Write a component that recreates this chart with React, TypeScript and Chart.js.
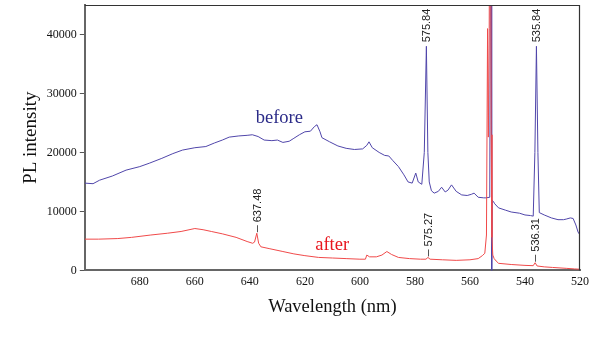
import React, { useEffect, useRef } from "react";
import { Chart, registerables } from "chart.js";

Chart.register(...registerables);

// ---- data ----
const beforeWl = [
  700, 697, 694.6, 690, 685, 680, 676.4, 672, 668, 664.5, 660, 656, 652.9, 650, 647.5, 644, 641, 639.1, 637, 634.8,
  632, 630, 628, 625.7, 624, 622, 620, 618, 616.5, 615.6, 614.5, 613.8, 611, 608, 605, 602, 599, 597.5, 596.7, 595.5,
  593, 591, 589.5, 588, 586, 584, 582.5, 581, 579.7, 578.8, 577.5, 576.6, 575.84, 575.3, 574.8, 574, 573, 571.5, 570.3, 569,
  568, 566.7, 565, 563, 561, 559.5, 558.5, 557, 555, 554.2, 552.8, 552.3, 552.1, 551.9, 551.5, 551, 549.6, 547, 545, 542,
  540, 538, 537, 536.4, 535.84, 535.3, 534.8, 533, 530.4, 528, 526, 525, 523.5, 522.5, 521.5, 520.7, 520,
];
const beforeVal = [
  14800, 14700, 15300, 16000, 17000, 17600, 18200, 19000, 19800, 20400, 20800, 21000, 21600, 22100, 22600, 22800, 22900, 23000, 22700, 22100,
  22000, 22100, 21700, 21900, 22400, 23000, 23500, 23600, 24400, 24700, 23500, 22500, 21800, 21100, 20700, 20500, 20600, 21200, 21800, 20800,
  20000, 19500, 19400, 18600, 17600, 16200, 15000, 14800, 16500, 15000, 14600, 20000, 38000, 20000, 15000, 13500, 13100, 13400, 14100, 13300,
  13600, 14500, 13400, 12800, 12700, 12900, 13100, 12400, 12300, 12300, 12400, 100000, 0, 11900, 11700, 11300, 10600, 10200, 9900, 9700,
  9400, 9300, 9200, 20000, 38000, 20000, 9800, 9400, 8900, 8600, 8600, 8700, 8900, 8800, 7700, 6500, 6000,
];

const afterWl = [
  700, 695, 688, 683, 676, 670, 665, 660, 657, 654, 650, 645, 641, 639, 638.3, 637.48, 636.8, 636, 633, 628,
  624, 620, 615, 610, 605, 600, 598, 597.5, 596.5, 594, 592, 590.2, 588.5, 586, 582, 578, 576, 575.27, 574.5, 570,
  565, 560, 557, 555.5, 554.6, 554.0, 553.6, 553.3, 553.0, 552.6, 552.3, 552.0, 551.7, 551.2, 550.5, 549.6, 545, 540, 537, 536.31,
  535.6, 533, 530, 525, 522, 520,
];
const afterVal = [
  5300, 5300, 5400, 5600, 6000, 6300, 6600, 7100, 6900, 6600, 6200, 5600, 4900, 4600, 4800, 6300, 4600, 4000, 3700, 3200,
  2800, 2500, 2200, 2100, 2000, 1900, 1900, 2600, 2300, 2300, 2600, 3200, 2700, 2200, 2000, 1900, 1900, 2200, 1900, 1800,
  1700, 1800, 2000, 2500, 2900, 6000, 41000, 22600, 41000, 100000, 23000, 5600, 2600, 2000, 1600, 1200, 1000, 850, 800, 1300,
  750, 600, 500, 350, 250, 200,
];

const xTicks = [520, 540, 560, 580, 600, 620, 640, 660, 680];
const yTicks = [0, 10000, 20000, 30000, 40000];

const peakWl = [575.84, 535.84, 637.48, 575.27, 536.31];
const peakVal = [38000, 38000, 6300, 2200, 1300];
const peakText = ["575.84", "535.84", "637.48", "575.27", "536.31"];
const peakSeries = ["before", "before", "after", "after", "after"];

const seriesNames = ["before", "after"];
const seriesLabelWl = [629.3, 610.1];
const seriesLabelVal = [25900, 4260];

const SERIF = "'Liberation Serif', 'Times New Roman', serif";
const SANS = "'Liberation Sans', Arial, sans-serif";
const COLORS: Record<string, { line: string; text: string }> = {
  before: { line: "#5046aa", text: "#2b2b88" },
  after: { line: "#f04a4a", text: "#e8161e" },
};

const annotatePlugin = {
  id: "annotate",
  afterDatasetsDraw(chart: any) {
    const { ctx, chartArea, scales } = chart;
    const x = scales.x;
    const y = scales.y;
    ctx.save();
    // frame top + right
    ctx.strokeStyle = "#333";
    ctx.lineWidth = 1.2;
    ctx.beginPath();
    ctx.moveTo(chartArea.left, chartArea.top + 0.5);
    ctx.lineTo(chartArea.right - 0.5, chartArea.top + 0.5);
    ctx.lineTo(chartArea.right - 0.5, chartArea.bottom);
    ctx.stroke();

    // peak labels
    peakWl.forEach((wl, i) => {
      const px = Math.round(x.getPixelForValue(wl)) + 0.5;
      const py = y.getPixelForValue(peakVal[i]);
      const leader = peakSeries[i] === "after" ? 7 : 0;
      if (leader > 0) {
        ctx.strokeStyle = "#555";
        ctx.lineWidth = 1;
        ctx.beginPath();
        ctx.moveTo(px, py - 1);
        ctx.lineTo(px, py - 1 - leader);
        ctx.stroke();
      }
      ctx.save();
      ctx.translate(px, py - leader - 4);
      ctx.rotate(-Math.PI / 2);
      ctx.font = `11px ${SANS}`;
      ctx.fillStyle = "#222";
      ctx.textAlign = "left";
      ctx.textBaseline = "middle";
      ctx.fillText(peakText[i], 0, 0);
      ctx.restore();
    });

    // series labels
    seriesNames.forEach((name, i) => {
      const px = x.getPixelForValue(seriesLabelWl[i]);
      const py = y.getPixelForValue(seriesLabelVal[i]);
      ctx.font = `18.5px ${SERIF}`;
      ctx.fillStyle = COLORS[name].text;
      ctx.textAlign = "center";
      ctx.textBaseline = "middle";
      ctx.fillText(name, px, py);
    });
    ctx.restore();
  },
};

export default function App() {
  const ref = useRef<HTMLCanvasElement | null>(null);
  useEffect(() => {
    if (!ref.current) return;
    const mk = (wl: number[], val: number[]) => wl.map((w, i) => ({ x: w, y: val[i] }));
    const chart = new Chart(ref.current, {
      type: "line",
      data: {
        datasets: [
          {
            label: "after",
            data: mk(afterWl, afterVal),
            borderColor: COLORS.after.line,
            borderWidth: 1,
            pointRadius: 0,
            tension: 0,
          },
          {
            label: "before",
            data: mk(beforeWl, beforeVal),
            borderColor: COLORS.before.line,
            borderWidth: 1,
            pointRadius: 0,
            tension: 0,
          },
        ],
      },
      options: {
        animation: false,
        responsive: false,
        layout: { padding: { left: 0, top: 5, right: 20, bottom: 36 } },
        plugins: { legend: { display: false }, tooltip: { enabled: false } },
        scales: {
          x: {
            type: "linear",
            reverse: true,
            min: 520,
            max: 700,
            afterBuildTicks: (axis: any) => {
              axis.ticks = xTicks.map((v) => ({ value: v }));
            },
            afterFit: (axis: any) => {
              axis.paddingLeft = 0;
              axis.paddingRight = 0;
            },
            grid: { display: false, drawTicks: false },
            border: { color: "#666", width: 2 },
            ticks: {
              padding: 4,
              color: "#111",
              font: { family: SERIF, size: 12 },
              callback: (v: any) => String(v),
            },
            title: {
              display: true,
              text: "Wavelength (nm)",
              color: "#111",
              font: { family: SERIF, size: 18.5 },
              padding: { top: 3, bottom: 0 },
            },
          },
          y: {
            type: "linear",
            min: 0,
            max: 45000,
            afterBuildTicks: (axis: any) => {
              axis.ticks = yTicks.map((v) => ({ value: v }));
            },
            afterFit: (axis: any) => {
              axis.paddingTop = 0;
              axis.paddingBottom = 0;
            },
            grid: { display: true, drawOnChartArea: false, drawTicks: true, tickLength: 5, color: "#555", lineWidth: 1 },
            border: { color: "#666", width: 2 },
            ticks: {
              padding: 3,
              color: "#111",
              font: { family: SERIF, size: 12 },
              callback: (v: any) => String(v),
            },
            title: {
              display: true,
              text: "PL intensity",
              color: "#111",
              font: { family: SERIF, size: 19 },
              padding: { top: 20, bottom: 1 },
            },
          },
        },
      },
      plugins: [annotatePlugin],
    });
    return () => chart.destroy();
  }, []);
  return (
    <div style={{ position: "fixed", left: 0, top: 0, width: 600, height: 354, background: "#fff" }}>
      <canvas ref={ref} width={600} height={354} style={{ display: "block" }} />
    </div>
  );
}
